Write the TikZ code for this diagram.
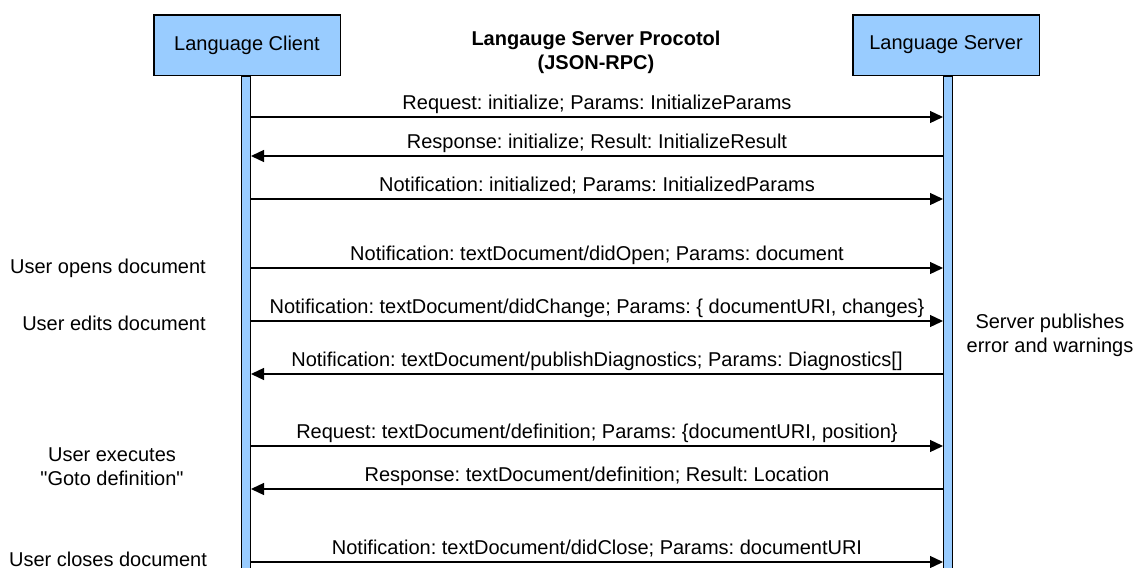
\documentclass[tikz,border=0pt]{standalone}
\usepackage{fontspec}
\setmainfont{Liberation Sans}
\usetikzlibrary{arrows.meta}
\definecolor{lifeblue}{HTML}{99CCFF}
\frenchspacing

\begin{document}
\begin{tikzpicture}[x=0.5pt,y=-0.5pt,>={Triangle[length=6.5pt,width=6pt]},
                font=\fontsize{10}{12}\selectfont,
                actor node/.style={rectangle,draw,fill=lifeblue,line width=0.75pt,
                  minimum width=93.25pt,minimum height=30.25pt},
                life node/.style={rectangle,draw,fill=lifeblue,line width=0.5pt,
                  minimum width=4.5pt,minimum height=250pt,inner sep=0pt,anchor=north},
                msg/.style={line width=0.65pt},
                msg label/.style={anchor=base,yshift=4pt,inner sep=0pt},
                note node/.style={align=center,inner sep=0pt}]

	\useasboundingbox (0,0) rectangle (1137,568);

	\node[life node] (cl) at (246,76) {};
	\node[life node] (sl) at (948,76) {};
	\node[actor node] (client) at (247,45) {Language Client};
	\node[actor node] (server) at (946,45) {Language Server};
	\node[align=center,font=\fontsize{10}{12}\selectfont\bfseries] (title) at (596,52)
		{Langauge Server Procotol\\(JSON-RPC)};

	% message rows
	\foreach \y [count=\i] in {117,156,199,268,321,374,446,489,562} {
		\coordinate (c\i) at (cl.east |- 0,\y);
		\coordinate (s\i) at (sl.west |- 0,\y);
	}

	\path[->,msg]
	(c1) edge node[msg label] {Request: initialize; Params: InitializeParams} (s1)
	(s2) edge node[msg label] {Response: initialize; Result: InitializeResult} (c2)
	(c3) edge node[msg label] {Notification: initialized; Params: InitializedParams} (s3)
	(c4) edge node[msg label] {Notification: textDocument/didOpen; Params: document} (s4)
	(c5) edge node[msg label] {Notification: textDocument/didChange; Params: \{ documentURI, changes\}} (s5)
	(s6) edge node[msg label] {Notification: textDocument/publishDiagnostics; Params: Diagnostics[]} (c6)
	(c7) edge node[msg label] {Request: textDocument/definition; Params: \{documentURI, position\}} (s7)
	(s8) edge node[msg label] {Response: textDocument/definition; Result: Location} (c8)
	(c9) edge node[msg label] {Notification: textDocument/didClose; Params: documentURI} (s9)
	;

	\node[note node,anchor=base] (open) at (108,273) {User opens document};
	\node[note node,anchor=base] (edit) at (114,330) {User edits document};
	\node[note node] (goto) at (112,467) {User executes\\\textquotedbl Goto definition\textquotedbl};
	\node[note node,anchor=base] (close) at (108,566) {User closes document};
	\node[note node] (publish) at (1050,335) {Server publishes\\error and warnings};
\end{tikzpicture}
\end{document}
